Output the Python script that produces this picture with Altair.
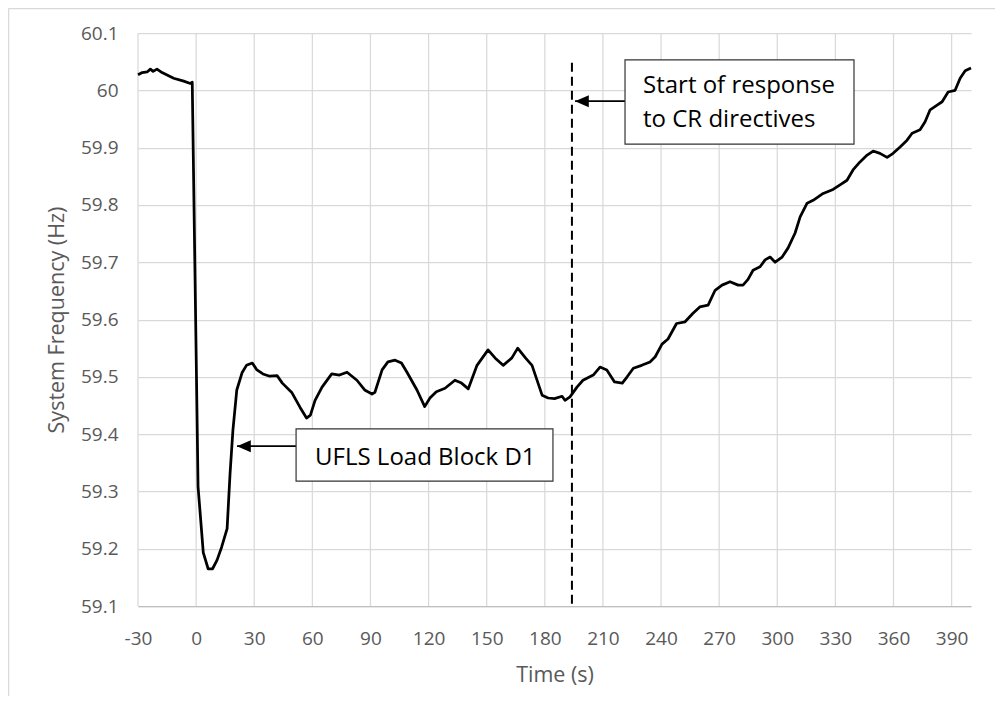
import altair as alt
import pandas as pd

# ---- data ----
time_s = [-30, -27.8, -25.3, -23.6, -22.2, -20.2, -17.6, -11.6, -6.4, -3, -2,
          1, 2, 3.7, 6.2, 8.5, 10.8, 13.2, 16, 17.5, 19, 21, 23.7, 26, 29,
          31.4, 34.5, 38, 41.8, 44.5, 49.5, 53.6, 57, 59, 61.4, 65, 70, 74,
          77.9, 83, 87, 90.8, 92.3, 96, 99, 102.7, 106, 109, 114, 118, 120.7,
          124, 128.5, 133.6, 137, 140.5, 145, 150.7, 154.3, 158.5, 163, 166,
          170, 173.4, 178.6, 181.7, 185, 188.9, 190.4, 193, 196.6, 199.7, 205,
          208.5, 212, 216, 220, 222.5, 225.7, 230, 234.3, 237, 240.5, 243.6,
          248, 252.4, 256.5, 260, 264.3, 267.9, 271.5, 275.6, 279.8, 282.3,
          284.9, 287.5, 291.1, 293.7, 296.3, 298.9, 302.5, 305.6, 309.2, 311.8,
          315.4, 318.5, 323.7, 328.8, 332.4, 336, 339.1, 342.7, 346.4, 349.5,
          353, 356.7, 359.8, 363.4, 367, 369.6, 373.7, 376.3, 378.9, 382.5,
          385.1, 388.2, 391.8, 394.4, 397, 400]
freq_hz = [60.027, 60.031, 60.032, 60.037, 60.033, 60.037, 60.031, 60.021,
           60.016, 60.012, 60.014,
           59.308, 59.266, 59.193, 59.165, 59.165, 59.18, 59.203, 59.235,
           59.33, 59.407, 59.477, 59.507, 59.52, 59.524,
           59.512, 59.505, 59.501, 59.502, 59.489, 59.472, 59.447, 59.428,
           59.433, 59.459, 59.482, 59.505, 59.503,
           59.508, 59.494, 59.477, 59.47, 59.473, 59.512, 59.526, 59.529,
           59.524, 59.507, 59.477, 59.448, 59.463,
           59.474, 59.48, 59.494, 59.489, 59.479, 59.52, 59.547, 59.533,
           59.52, 59.533, 59.55,
           59.533, 59.52, 59.468, 59.463, 59.462, 59.466, 59.459, 59.465,
           59.482, 59.494, 59.503,
           59.517, 59.512, 59.491, 59.489, 59.5, 59.515, 59.52, 59.526,
           59.535, 59.557, 59.566,
           59.593, 59.596, 59.611, 59.622, 59.625, 59.651, 59.66, 59.666,
           59.66, 59.66,
           59.67, 59.686, 59.692, 59.704, 59.709, 59.7, 59.709, 59.725,
           59.751, 59.779,
           59.803, 59.808, 59.82, 59.827, 59.835, 59.843, 59.861, 59.875,
           59.887, 59.894,
           59.89, 59.883, 59.89, 59.901, 59.913, 59.925, 59.931, 59.945,
           59.966, 59.974,
           59.98, 59.997, 60.0, 60.021, 60.034, 60.039]

x_ticks = [-30, 0, 30, 60, 90, 120, 150, 180, 210, 240, 270, 300, 330, 360, 390]
y_ticks = [59.1, 59.2, 59.3, 59.4, 59.5, 59.6, 59.7, 59.8, 59.9, 60.0, 60.1]

# annotations (data units)
cr_time = [194]
cr_top = [60.048]
cr_bottom = [59.1]

box_x0 = [51.6, 221.4]
box_x1 = [184.2, 339.6]
box_y0 = [59.409, 60.053]
box_y1 = [59.318, 59.906]

arrow_from = [51.6, 221.4]
arrow_tip = [21.1, 195.6]
arrow_f = [59.379, 59.981]

label_text = ["UFLS Load Block D1", "Start of response", "to CR directives"]
label_t = [61.4, 230.7, 230.7]
label_f = [59.346, 59.995, 59.936]

FONT = "Open Sans"
GRID = "#d9d9d9"
TXT = "#595959"
X_TITLE = "Time (s)"
Y_TITLE = "System Frequency (Hz)"

df = pd.DataFrame({"t": time_s, "f": freq_hz})
df_vgrid = pd.DataFrame({"t": x_ticks})
df_cr = pd.DataFrame({"t": cr_time, "f": cr_top, "f1": cr_bottom})
df_box = pd.DataFrame({"t": box_x0, "t1": box_x1, "f": box_y0, "f1": box_y1})
df_arrow = pd.DataFrame({"t": arrow_tip, "t1": arrow_from, "f": arrow_f})
df_lab = pd.DataFrame({"text": label_text, "t": label_t, "f": label_f})

xs = alt.Scale(domain=[-30, 400], nice=False, zero=False)
ys = alt.Scale(domain=[59.1, 60.1], nice=False, zero=False)

x_axis = alt.Axis(values=x_ticks, labelExpr="'' + datum.value",
                  grid=False,
                  domainColor="#bfbfbf", domainWidth=1.25, ticks=False,
                  labelPadding=23, labelFontSize=19, labelColor=TXT, labelFont=FONT,
                  labelFlush=False, labelOverlap=False,
                  titleFont=FONT, titleFontSize=21.5, titleColor=TXT,
                  titleFontWeight="normal", titleY=75, titleX=416.5,
                  titleBaseline="alphabetic", titleAlign="center")
y_axis = alt.Axis(values=y_ticks, labelExpr="format(datum.value, '.1~f')",
                  grid=True, gridColor=GRID, gridWidth=1.25, domain=False,
                  ticks=False, labelPadding=20, labelFontSize=19, labelColor=TXT,
                  labelFont=FONT, labelFlush=False, labelOverlap=False,
                  titleFont=FONT, titleFontSize=21.5, titleColor=TXT,
                  titleFontWeight="normal", titleAngle=270, titleX=-75,
                  titleY=286.5, titleBaseline="alphabetic", titleAlign="center")


def X(field="t"):
    return alt.X(f"{field}:Q", scale=xs, axis=x_axis, title=X_TITLE)


def Y(field="f"):
    return alt.Y(f"{field}:Q", scale=ys, axis=y_axis, title=Y_TITLE)


vgrid = alt.Chart(df_vgrid).mark_rule(color=GRID, strokeWidth=1.25).encode(x=X())

line = alt.Chart(df).mark_line(color="black", strokeWidth=2.75,
                               strokeJoin="round").encode(x=X(), y=Y())

cr_rule = alt.Chart(df_cr).mark_rule(color="black", strokeWidth=2,
                                     strokeDash=[9, 5]).encode(
    x=X(), y=Y(), y2="f1:Q")

boxes = alt.Chart(df_box).mark_rect(fill="white", stroke="#333333",
                                    strokeWidth=1.2).encode(
    x=X(), x2="t1:Q", y=Y(), y2="f1:Q")

arrow_lines = alt.Chart(df_arrow).mark_rule(color="black", strokeWidth=1.75).encode(
    x=X(), x2="t1:Q", y=Y())

arrow_heads = alt.Chart(df_arrow).mark_point(
    shape="M0,0L2.3,-1L2.3,1Z", size=144, filled=True, color="black", opacity=1
).encode(x=X(), y=Y())

labels = alt.Chart(df_lab).mark_text(align="left", baseline="alphabetic",
                                     font=FONT, fontSize=24, color="black").encode(
    x=X(), y=Y(), text="text:N")

border_left = alt.Chart(df_cr).mark_rule(color=GRID, strokeWidth=1.5).encode(
    x=alt.value(-129.5), y=alt.value(-24.5), y2=alt.value(700))
border_top = alt.Chart(df_cr).mark_rule(color=GRID, strokeWidth=1.5).encode(
    x=alt.value(-129.5), x2=alt.value(900), y=alt.value(-24.5))

chart = alt.layer(vgrid, line, cr_rule, arrow_lines, arrow_heads, boxes, labels,
                  border_left, border_top).properties(
    width=833, height=573,
    autosize=alt.AutoSizeParams(type="none"),
    padding={"left": 130, "top": 25, "right": 24, "bottom": 90},
    background="white",
).configure(font=FONT).configure_view(stroke="transparent", strokeWidth=0)

chart.save("out.html", embed_options={"renderer": "svg", "actions": False})
